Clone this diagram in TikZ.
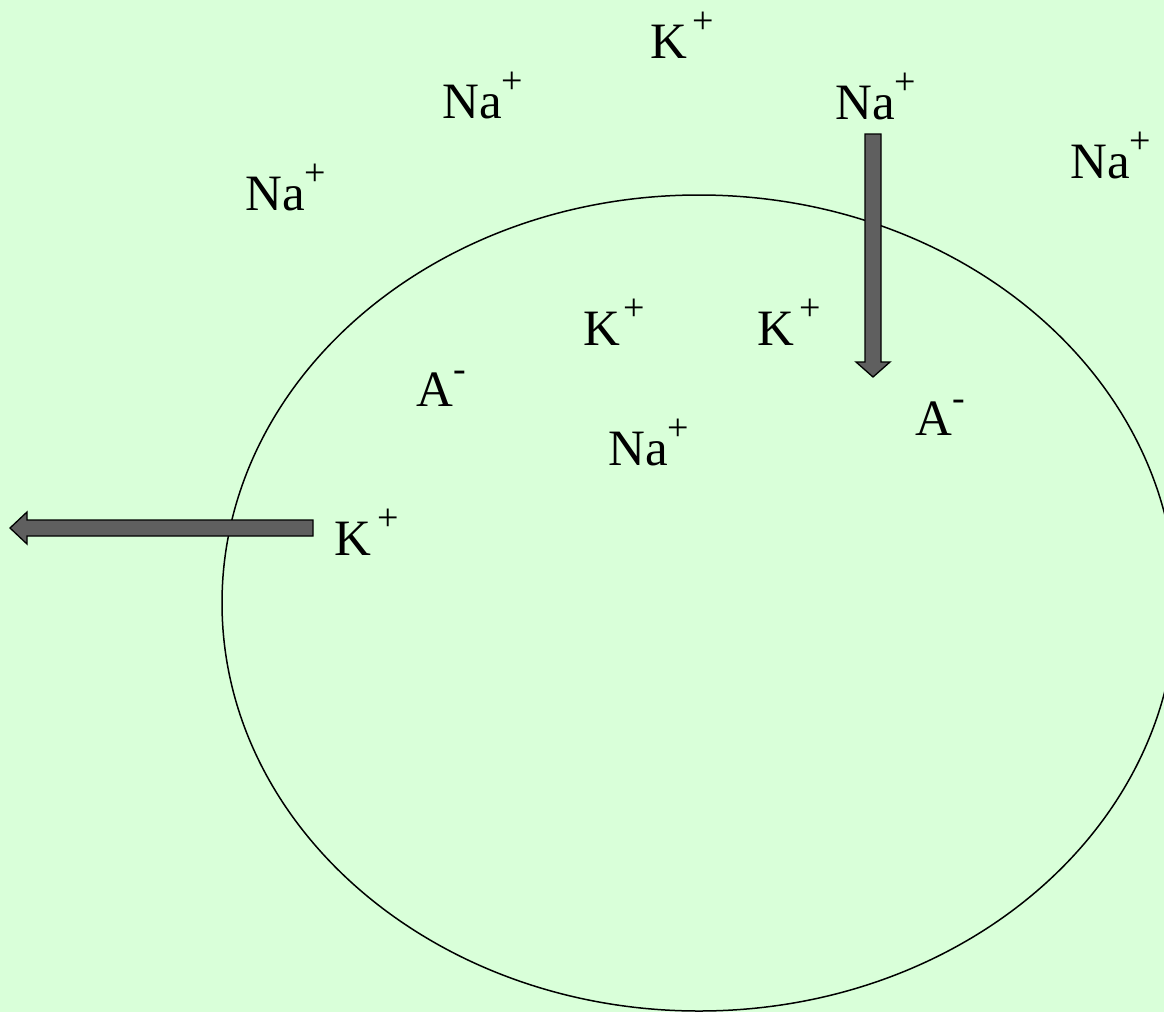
\documentclass[tikz,border=0pt]{standalone}
\usepackage{fontspec}
\setmainfont{Liberation Serif}
\newfontfamily\ionfont{DejaVu Serif}
\usepackage{tikz}
\usetikzlibrary{calc}
\definecolor{cellgreen}{RGB}{217,255,217}
\definecolor{pumpgrey}{RGB}{95,95,95}
\tikzset{
  ion/.style={anchor=base west,inner sep=0pt,font=\fontsize{51}{60}\selectfont},
  membrane/.style={draw=black,line width=1.5pt},
  pumparrow/.style={draw=black,line width=1.3pt,fill=pumpgrey,line join=miter}
}
\newcommand{\chg}[1]{\raisebox{25pt}{\fontsize{38}{44}\selectfont #1}}

\begin{document}
\begin{tikzpicture}[x=1pt,y=-1pt]
  \fill[cellgreen] (0,0) rectangle (1164,1012);
  \useasboundingbox (0,0) rectangle (1164,1012);
  \clip (0,0) rectangle (1164,1012);
  % cell
  \draw[membrane] (699,603) ellipse [x radius=477,y radius=408];
  % ions outside
  \node[ion] (kout) at (650,58) {K\kern5pt\chg{+}};
  \node[ion] (naoutA) at (442,118) {Na\chg{+}};
  \node[ion] (naoutB) at (835,119) {Na\chg{+}};
  \node[ion] (naoutC) at (1070,178) {Na\chg{+}};
  \node[ion] (naoutD) at (245,210) {Na\chg{+}};
  % ions inside
  \node[ion] (kinA) at (583,345) {K\kern3pt\chg{+}};
  \node[ion] (kinB) at (757,345) {K\kern5pt\chg{+}};
  \node[ion] (aninA) at (416,406) {A\chg{-}};
  \node[ion] (aninB) at (915,435) {A\chg{-}};
  \node[ion] (nain) at (608,465) {Na\chg{+}};
  \node[ion] (kleak) at (334,555) {K\kern6pt\chg{+}};
  % sodium in
  \coordinate (natop) at (873,134);
  \draw[pumparrow] ($(natop)+(-8,0)$) -- ($(natop)+(8,0)$) -- ($(natop)+(8,228)$)
    -- ($(natop)+(17,228)$) -- ($(natop)+(0,243)$) -- ($(natop)+(-17,228)$)
    -- ($(natop)+(-8,228)$) -- cycle;
  % potassium out
  \coordinate (kstart) at (313,528);
  \draw[pumparrow] ($(kstart)+(0,-8)$) -- ($(kstart)+(0,8)$) -- ($(kstart)+(-286,8)$)
    -- ($(kstart)+(-286,16)$) -- ($(kstart)+(-303,0)$) -- ($(kstart)+(-286,-16)$)
    -- ($(kstart)+(-286,-8)$) -- cycle;
\end{tikzpicture}
\end{document}
